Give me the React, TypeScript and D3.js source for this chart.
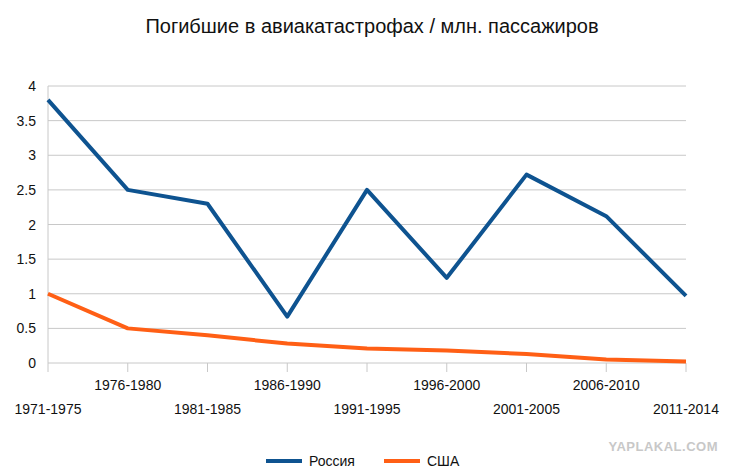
import React from "react";
import * as d3 from "d3";

const categories = ["1971-1975","1976-1980","1981-1985","1986-1990","1991-1995","1996-2000","2001-2005","2006-2010","2011-2014"];
const russia = [3.8, 2.5, 2.3, 0.67, 2.5, 1.23, 2.72, 2.12, 0.97];
const usa = [1.0, 0.5, 0.4, 0.28, 0.21, 0.18, 0.13, 0.05, 0.02];
const yTicks = [0, 0.5, 1, 1.5, 2, 2.5, 3, 3.5, 4];

export default function App() {
  const W = 744, H = 476;
  const x = d3.scalePoint<string>().domain(categories).range([48, 686]);
  const y = d3.scaleLinear().domain([0, 4]).range([363, 86]);
  const line = d3.line<number>().x((_, i) => x(categories[i])!).y(d => y(d));
  const font = "Helvetica, Arial, 'Liberation Sans', sans-serif";
  return (
    <svg width={W} height={H} style={{ position: "absolute", left: 0, top: 0, background: "#fff" }} fontFamily={font}>
      <text x={372} y={33} textAnchor="middle" fontSize={20} fill="#111">Погибшие в авиакатастрофах / млн. пассажиров</text>
      {yTicks.map(t => (
        <g key={t}>
          <line x1={48} x2={686} y1={y(t)} y2={y(t)} stroke="#c8c8c8" />
          <text x={36} y={y(t) + 5} textAnchor="end" fontSize={14} fill="#111">{t}</text>
        </g>
      ))}
      <line x1={48} x2={48} y1={86} y2={363} stroke="#c8c8c8" />
      {categories.map((c, i) => (
        <g key={c}>
          <line x1={x(c)} x2={x(c)} y1={363} y2={i % 2 === 0 ? 372 : 372} stroke="#c8c8c8" />
          <text x={x(c)} y={i % 2 === 0 ? 414 : 390} textAnchor="middle" fontSize={14} fill="#111">{c}</text>
        </g>
      ))}
      <path d={line(usa)!} fill="none" stroke="#ff5f15" strokeWidth={4} strokeLinejoin="round" />
      <path d={line(russia)!} fill="none" stroke="#0e5390" strokeWidth={4} strokeLinejoin="round" />
      <text x={718} y={451} textAnchor="end" fontSize={13} fontWeight="bold" fill="#c8c8c8" letterSpacing={0.5}>YAPLAKAL.COM</text>
      <line x1={266} x2={302} y1={461} y2={461} stroke="#0e5390" strokeWidth={4} />
      <text x={309} y={466} fontSize={14} fill="#111">Россия</text>
      <line x1={384} x2={420} y1={461} y2={461} stroke="#ff5f15" strokeWidth={4} />
      <text x={427} y={466} fontSize={14} fill="#111">США</text>
    </svg>
  );
}
